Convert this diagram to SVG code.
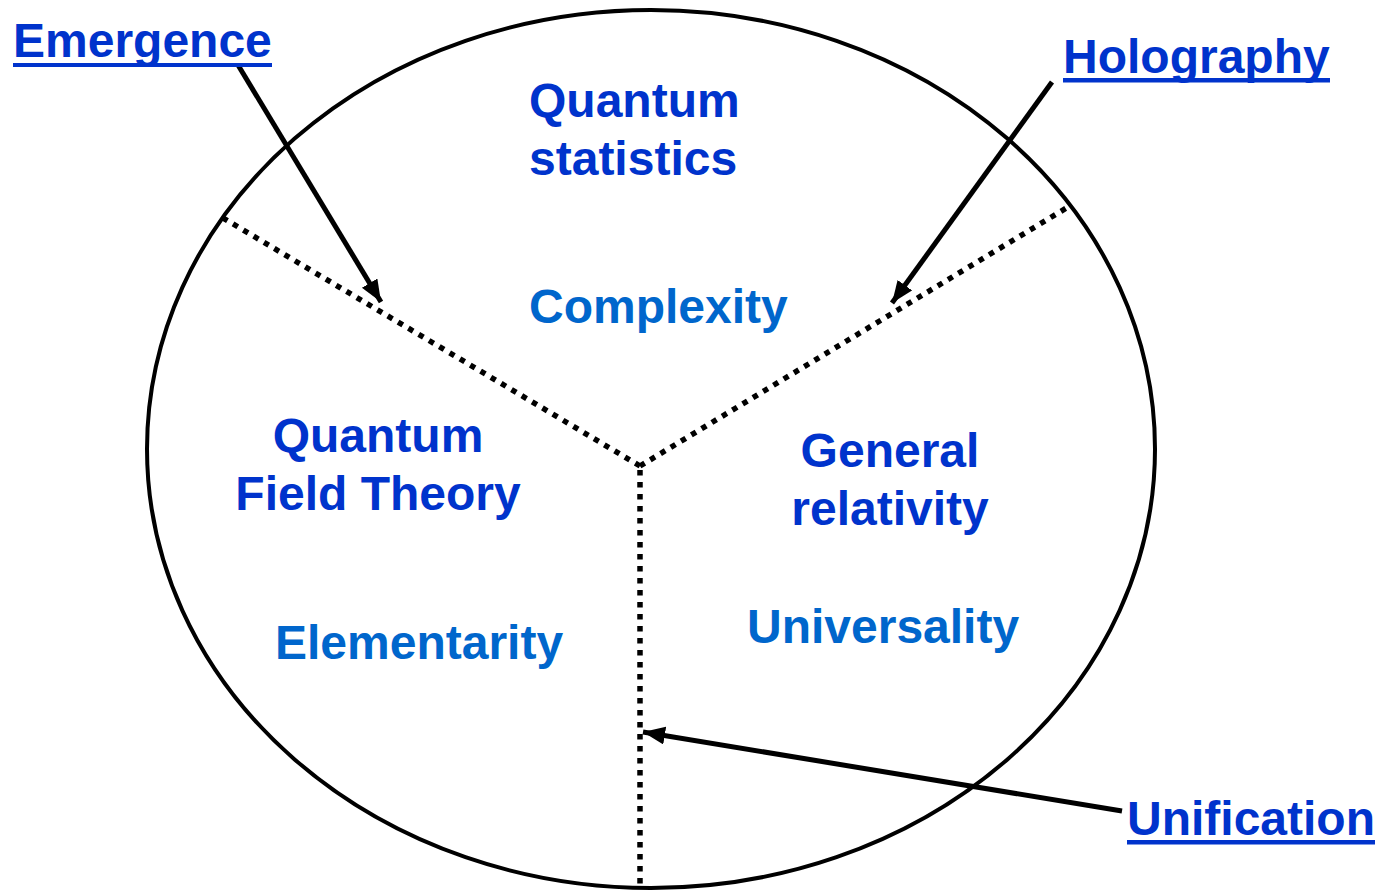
<svg xmlns="http://www.w3.org/2000/svg" width="1378" height="890" viewBox="0 0 1378 890">
<defs>
<style>
.t{font-family:"Liberation Sans",Arial,sans-serif;font-weight:bold;font-size:48px}
.d{fill:#0033CC}
.l{fill:#0066CC}
.ul{fill:#0033CC}
.dot{stroke:#000;stroke-width:5.5;stroke-dasharray:5.5 6.5;fill:none}
.arr{stroke:#000;stroke-width:5;fill:none;marker-end:url(#ah)}
</style>
<marker id="ah" markerUnits="userSpaceOnUse" markerWidth="24" markerHeight="20" refX="22" refY="9" orient="auto">
<path d="M0,0 L22,9 L0,18 Z" fill="#000"/>
</marker>
</defs>
<rect width="1378" height="890" fill="#fff"/>
<g id="circle">
<ellipse cx="651" cy="449" rx="504" ry="439" fill="none" stroke="#000" stroke-width="4"/>
</g>
<g id="dividers">
<line class="dot" x1="640" y1="466" x2="218" y2="215"/>
<line class="dot" x1="640" y1="466" x2="1068" y2="207"/>
<line class="dot" x1="640" y1="470" x2="640" y2="890"/>
</g>
<g id="connectors">
<line class="arr" x1="238" y1="65" x2="381" y2="302"/>
<line class="arr" x1="1052" y1="82" x2="892" y2="303"/>
<line class="arr" x1="1122" y1="811" x2="643" y2="732"/>
</g>
<g id="quantum-statistics">
<text class="t d" x="529" y="117">Quantum</text>
<text class="t d" x="529" y="175">statistics</text>
<text class="t l" x="529" y="323">Complexity</text>
</g>
<g id="qft">
<text class="t d" x="378" y="452" text-anchor="middle">Quantum</text>
<text class="t d" x="378" y="510" text-anchor="middle">Field Theory</text>
<text class="t l" x="275" y="659">Elementarity</text>
</g>
<g id="gr">
<text class="t d" x="890" y="467" text-anchor="middle">General</text>
<text class="t d" x="890" y="525" text-anchor="middle">relativity</text>
<text class="t l" x="747" y="643">Universality</text>
</g>
<g id="emergence"><text class="t d" x="13" y="57">Emergence</text><rect class="ul" x="13" y="63" width="259" height="4"/></g>
<g id="holography"><text class="t d" x="1063" y="73">Holography</text><rect class="ul" x="1063" y="78" width="267" height="4.5"/></g>
<g id="unification"><text class="t d" x="1127" y="835">Unification</text><rect class="ul" x="1127" y="840" width="248" height="4.5"/></g>
</svg>
